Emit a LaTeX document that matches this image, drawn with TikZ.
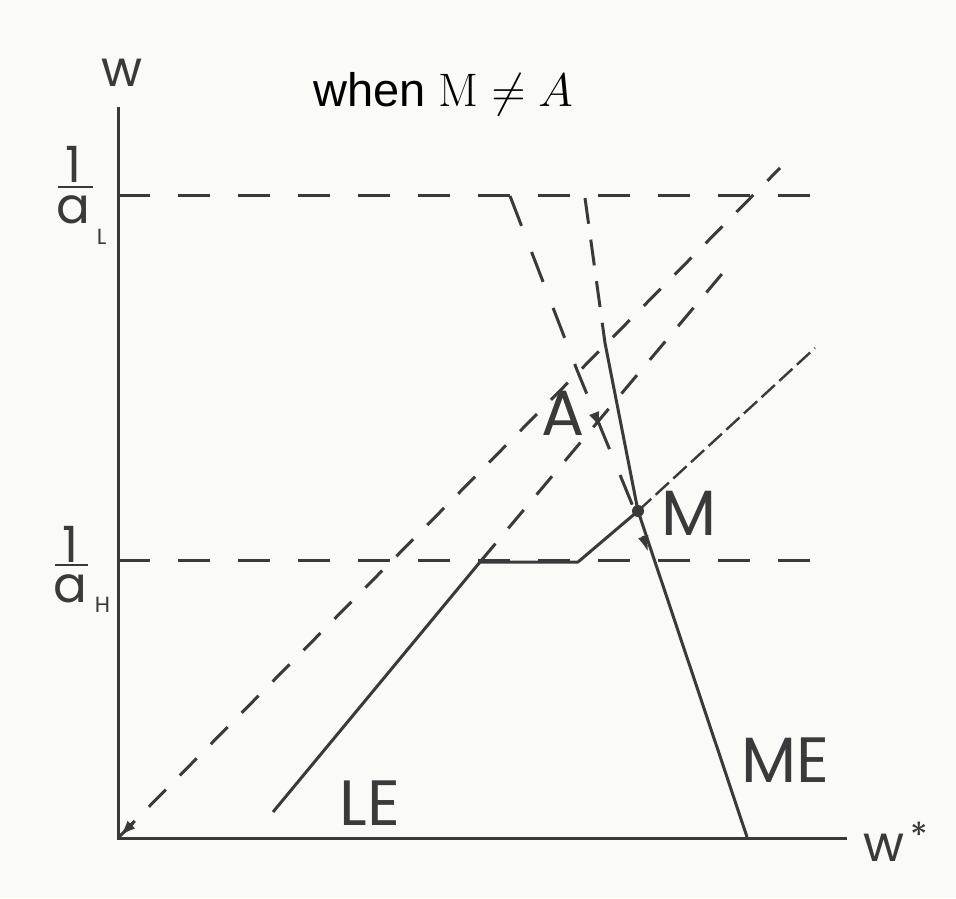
\RequirePackage{fix-cm}
\documentclass[tikz,border=0pt]{standalone}
\usepackage{fontspec}
\newfontfamily\geo{Poppins}
\newfontfamily\arialf{Liberation Sans}
\usetikzlibrary{arrows.meta}
\definecolor{ink}{HTML}{3A3A3A}
\definecolor{paper}{HTML}{FAFAF6}
\begin{document}
\begin{tikzpicture}[x=0.5pt,y=-0.5pt,
  ln/.style={draw=ink,line width=1.5pt},
  longdash/.style={ln,dash pattern=on 16pt off 14pt},
  shortdash/.style={ln,dash pattern=on 12pt off 10pt},
  medash/.style={ln,dash pattern=on 13pt off 8pt},
  finedash/.style={ln,line width=1.2pt,dash pattern=on 9pt off 3pt},
  lab/.style={text=ink,font=\geo\fontsize{32}{36}\selectfont,inner sep=0pt},
  small/.style={text=ink,font=\geo\fontsize{25}{28}\selectfont,inner sep=0pt},
  fracstyle/.style={text=ink,font=\geo\fontsize{25}{28}\selectfont,inner sep=0pt,anchor=base},
  tip/.style={-{Latex[length=8pt,width=5.5pt]},draw=ink,line width=1.5pt}
]
\fill[paper] (0,0) rectangle (956,898);
\useasboundingbox (0,0) rectangle (956,898);

% key points
\coordinate (O) at (118,838);
\coordinate (Ytop) at (118,107);
\coordinate (Xend) at (847,838);
\coordinate (L0) at (118,196);
\coordinate (L1) at (820,196);
\coordinate (H0) at (118,560);
\coordinate (H1) at (820,560);
\coordinate (oc) at (510,196);
\coordinate (ob) at (577,370);
\coordinate (oe) at (634,509);
\coordinate (nc) at (585,198);
\coordinate (nb) at (605,343);
\coordinate (M) at (638,511);
\coordinate (ne) at (747,837);
\coordinate (d1e) at (780,168);
\coordinate (k1) at (480,562);
\coordinate (d2e) at (732,262);
\coordinate (le0) at (273,812);
\coordinate (k2) at (578,562);
\coordinate (lee) at (815,348);

% horizontal reference lines
\draw[longdash] (L0) -- (L1);
\draw[longdash] (H0) -- (H1);

% diagonals
\draw[shortdash] (O) -- (d1e);
\draw[shortdash] (k1) -- (d2e);

% old ME (dashed)
\draw[longdash] (oc) -- (ob) -- (oe);

% new ME
\draw[medash] (nc) -- (nb);
\draw[ln] (nb) -- (M) -- (ne);

% LE
\draw[ln,line join=round] (le0) -- (k1) -- (k2) -- (M);
\draw[finedash] (M) -- (lee);

% axes
\draw[ln] (Ytop) -- (O) -- (Xend);

% arrows
\coordinate (a1s) at (594.5,414);
\coordinate (a1e) at (600,428);
\coordinate (a2s) at (643,536);
\coordinate (a2e) at (648,552);
\coordinate (a3s) at (133,823);
\coordinate (a3e) at (120,836);
\draw[tip] (a1s) -- (a1e);
\draw[tip] (a2s) -- (a2e);
\draw[tip] (a3s) -- (a3e);

% M point
\fill[ink] (M) circle (3pt);

% labels
\node[lab] (Alab) at (563,413) {A};
\node[lab] (Mlab) at (689,513) {M};
\node[lab] (LElab) at (370,803) {LE};
\node[lab] (MElab) at (785,760) {ME};
\node[small] (wlab) at (122,73) {w};
\node[small,anchor=base west] (wslab) at (863,861) {w\raisebox{6.5pt}{\fontsize{18}{20}\selectfont\,*}};

% fractions
\node[fracstyle] (fracL) at (73,223.5) {\begin{tabular}[b]{@{}c@{}}1\\[-7.5pt]a\rlap{\hspace{3.5pt}\raisebox{-10.5pt}{\fontsize{11}{12}\selectfont L}}\end{tabular}};
\draw[ink,line width=1.2pt] (58,187) -- (93,187);
\node[fracstyle] (fracH) at (70,602.5) {\begin{tabular}[b]{@{}c@{}}1\\[-8pt]a\rlap{\hspace{4pt}\raisebox{-5pt}{\fontsize{11}{12}\selectfont H}}\end{tabular}};
\draw[ink,line width=1.2pt] (55,565) -- (88,565);

% title
\node[anchor=base,inner sep=0pt] (title) at (443,107) {\arialf\fontsize{23.5}{27}\selectfont when $\mathrm{M}\neq A$};
\end{tikzpicture}
\end{document}
